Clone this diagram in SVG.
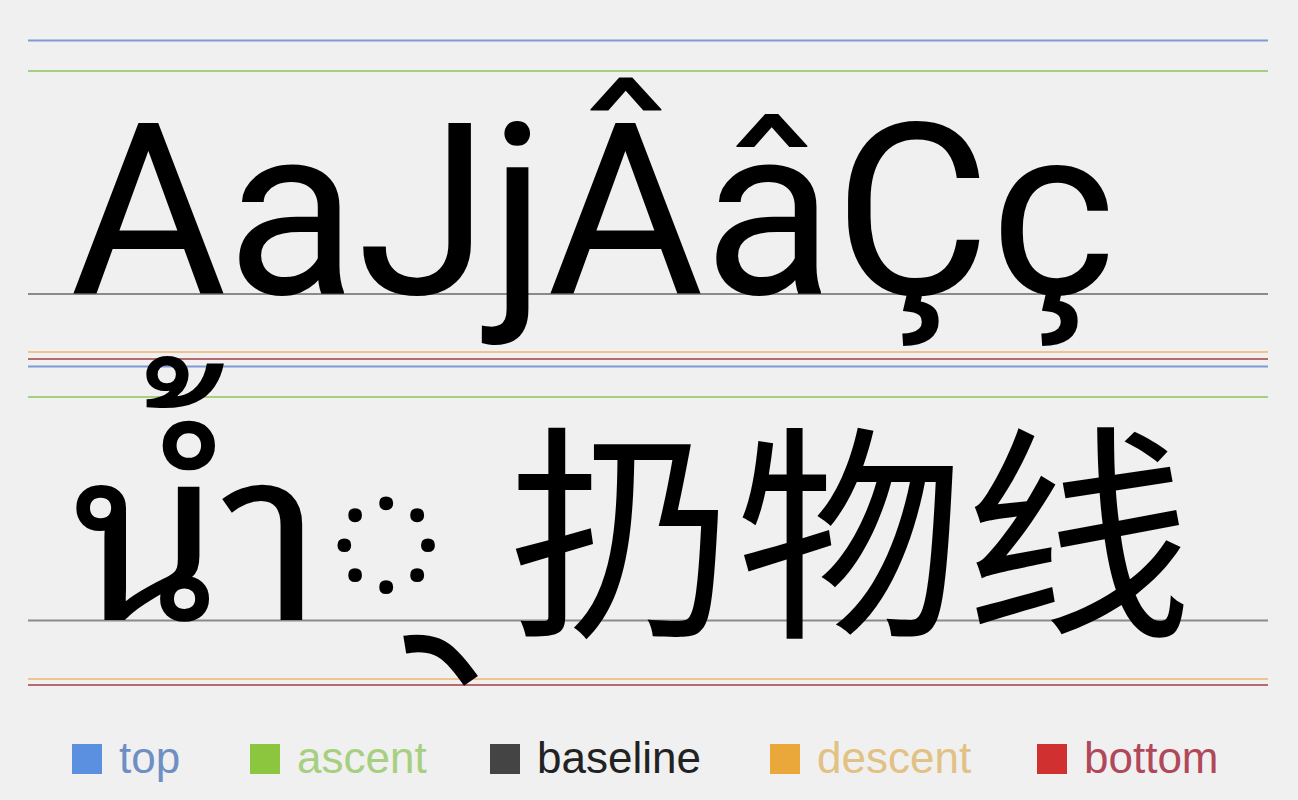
<svg xmlns="http://www.w3.org/2000/svg" width="1298" height="800" viewBox="0 0 1298 800">
<style>
.l{stroke-width:2;fill:none}
.top{stroke:#7f9ad6}.asc{stroke:#a6cf7f}.base{stroke:#8a8a8a}.desc{stroke:#f1c38e}.bot{stroke:#b86a72}
.big{font-family:Roboto,"Noto Sans","DejaVu Sans",sans-serif;font-size:240px;fill:#000}
.thai{font-family:"Noto Sans Thai Looped","Noto Sans Thai","Noto Sans","DejaVu Sans",sans-serif;font-size:240px;fill:#000}
.deva{font-family:"Noto Sans Devanagari","Lohit Devanagari","Noto Sans","DejaVu Sans",sans-serif;font-size:240px;fill:#000}
.cjk{font-family:"Noto Sans CJK SC",sans-serif;font-size:228px;fill:#000}
.lg{font-family:"Liberation Sans",Arial,sans-serif;font-size:44px}
</style>
<rect width="1298" height="800" fill="#f0f0f0"/>
<g id="lines">
<line class="l top" x1="28" y1="40.5" x2="1268" y2="40.5"/>
<line class="l asc" x1="28" y1="71" x2="1268" y2="71"/>
<line class="l base" x1="28" y1="294" x2="1268" y2="294"/>
<line class="l desc" x1="28" y1="352" x2="1268" y2="352"/>
<line class="l bot" x1="28" y1="359" x2="1268" y2="359"/>
<line class="l top" x1="28" y1="366.5" x2="1268" y2="366.5"/>
<line class="l asc" x1="28" y1="397" x2="1268" y2="397"/>
<line class="l base" x1="28" y1="620.5" x2="1268" y2="620.5"/>
<line class="l desc" x1="28" y1="679" x2="1268" y2="679"/>
<line class="l bot" x1="28" y1="685" x2="1268" y2="685"/>
</g>
<g id="row1">
<text class="big" x="70" y="294">AaJjÂâÇç</text>
</g>
<g id="row2">
<text class="thai" x="72" y="620">น้ำ</text>
<text class="deva" x="325" y="620">◌्</text>
<text class="cjk" x="508" y="620">扔物线</text>
</g>
<g id="legend">
<rect x="72" y="744" width="30" height="30" fill="#5b8fe0"/>
<text class="lg" x="119" y="773" fill="#6f8fc4">top</text>
<rect x="250" y="744" width="30" height="30" fill="#8cc63f"/>
<text class="lg" x="297" y="773" fill="#a6cf7f">ascent</text>
<rect x="490" y="744" width="30" height="30" fill="#444444"/>
<text class="lg" x="537" y="773" fill="#222222">baseline</text>
<rect x="770" y="744" width="30" height="30" fill="#eaa83a"/>
<text class="lg" x="817" y="773" fill="#e2c185">descent</text>
<rect x="1037" y="744" width="30" height="30" fill="#d0302f"/>
<text class="lg" x="1084" y="773" fill="#b0485a">bottom</text>
</g>
</svg>
